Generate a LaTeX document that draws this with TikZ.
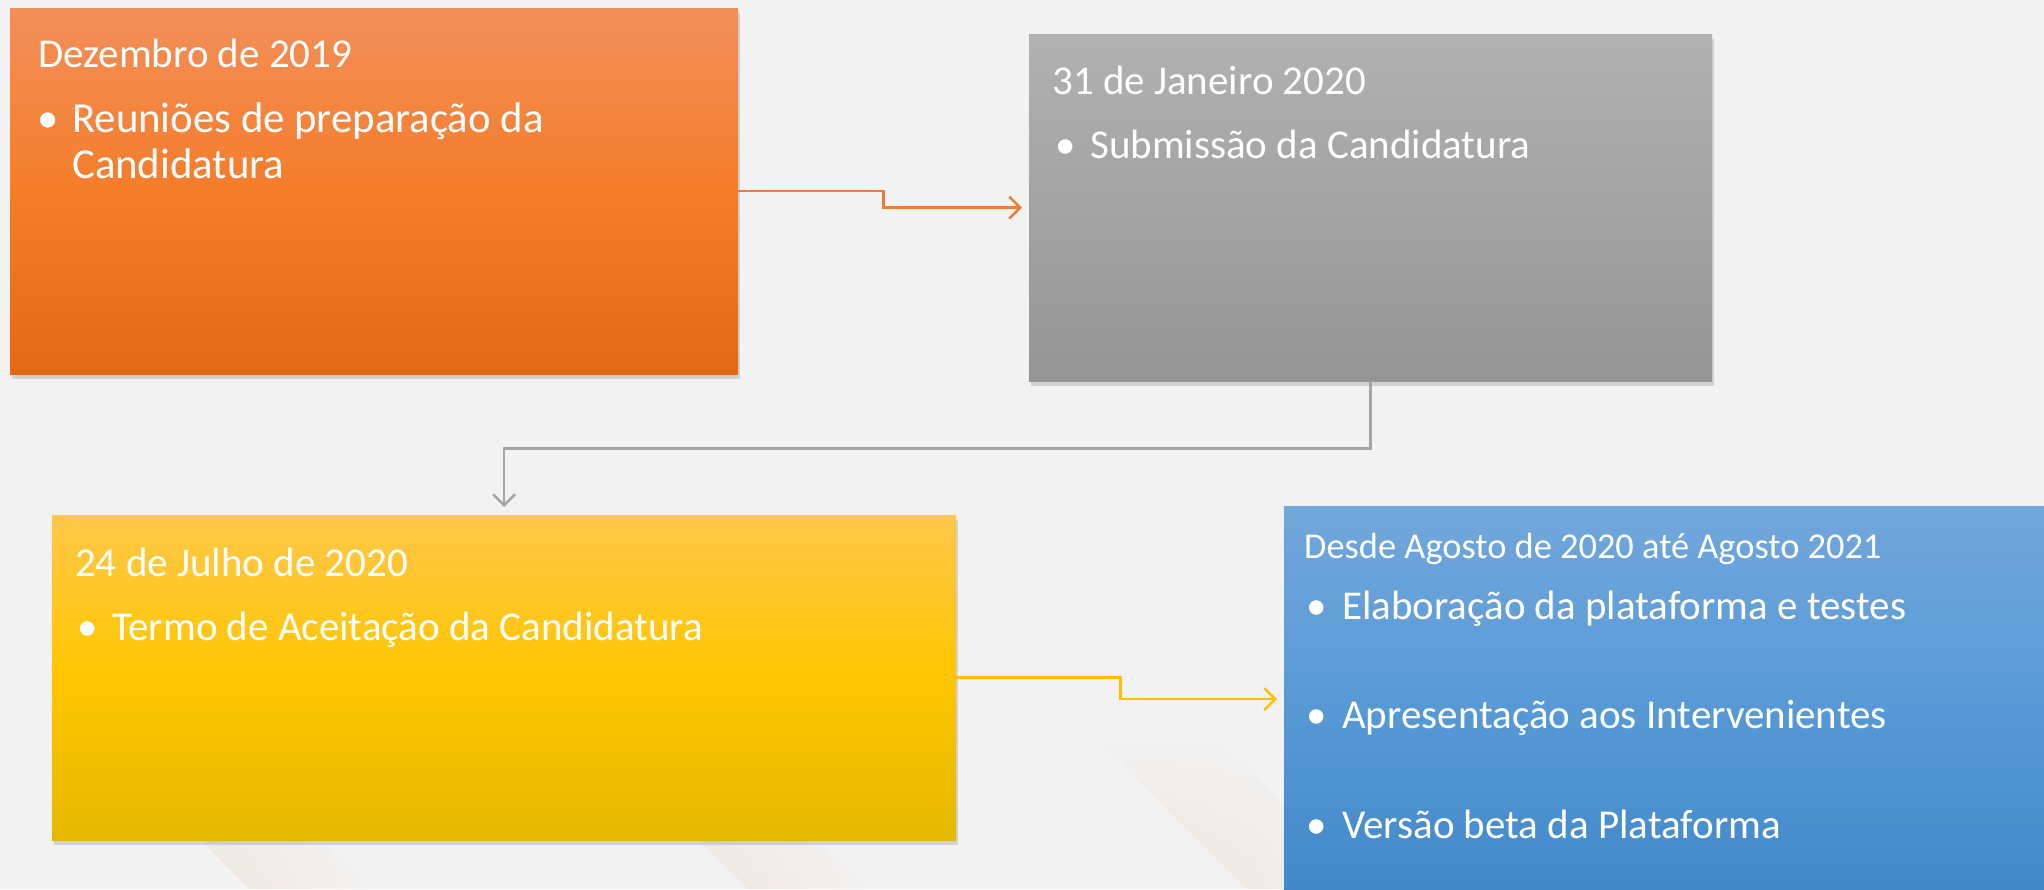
\documentclass[tikz,border=0pt]{standalone}
\usepackage{fontspec}
\setmainfont{Carlito}
\usetikzlibrary{arrows.meta,shadows,fadings}
\definecolor{bg}{RGB}{242,242,242}
\definecolor{streak}{RGB}{238,218,202}
\definecolor{oA}{RGB}{242,143,90}
\definecolor{oB}{RGB}{244,125,42}
\definecolor{oC}{RGB}{226,106,22}
\definecolor{gA}{RGB}{177,177,177}
\definecolor{gB}{RGB}{163,163,163}
\definecolor{gC}{RGB}{149,149,149}
\definecolor{yA}{RGB}{255,200,74}
\definecolor{yB}{RGB}{255,198,0}
\definecolor{yC}{RGB}{228,184,0}
\definecolor{bA}{RGB}{114,167,219}
\definecolor{bB}{RGB}{88,154,214}
\definecolor{bC}{RGB}{66,136,200}
\definecolor{oline}{RGB}{237,125,49}
\definecolor{gline}{RGB}{165,165,165}
\definecolor{yline}{RGB}{255,192,0}
\newcommand\bul{\makebox[35pt][l]{•}}
\begin{document}
\begin{tikzpicture}[x=1pt,y=-1pt,
  box/.style={draw=none, inner sep=0pt, anchor=north west,
    drop shadow={shadow xshift=2pt, shadow yshift=-5pt, opacity=0.28}},
  txt/.style={anchor=base west, inner sep=0pt, text=white, font=\fontsize{41}{49}\selectfont},
  bigtxt/.style={txt, font=\fontsize{42.8}{51}\selectfont},
  smalltxt/.style={txt, font=\fontsize{36.4}{43}\selectfont},
  conn/.style={line width=2.5pt, -{Straight Barb[length=11pt,width=22pt]}, shorten >=7pt},
  streakband/.style={left color=streak, right color=bg, path fading=north, opacity=0.8}]
\useasboundingbox (0,0) rectangle (2044,889);
\clip (0,0) rectangle (2044,889);
\fill[bg] (0,0) rectangle (2044,889);
% faint background streaks
\shade[streakband] (104,744) -- (249,889) -- (369,889) -- (224,744) -- cycle;
\shade[streakband] (603,744) -- (748,889) -- (868,889) -- (723,744) -- cycle;
\shade[streakband] (1102,744) -- (1247,889) -- (1367,889) -- (1222,744) -- cycle;
% boxes
\node[box, minimum width=728pt, minimum height=366pt,
  top color=oA, bottom color=oC, middle color=oB] (o) at (10,8) {};
\node[box, minimum width=683pt, minimum height=347pt,
  top color=gA, bottom color=gC, middle color=gB] (g) at (1029,34) {};
\node[box, minimum width=904pt, minimum height=325pt,
  top color=yA, bottom color=yC, middle color=yB] (y) at (52,515) {};
\node[box, minimum width=780pt, minimum height=386pt,
  top color=bA, bottom color=bC, middle color=bB] (b) at (1284,506) {};
% connectors
\draw[conn, oline] (o.east) -- ++(145,0) |- (g.west);
\draw[conn, gline, shorten >=8pt] (g.south) -- ++(0,67) -| (y.north);
\draw[conn, yline] (y.east) -- ++(164,0) |- (b.west);
% texts
\node[txt] (oh) at (38,67) {Dezembro de 2019};
\node[bigtxt] (o1) at (37,132) {\bul Reuniões de preparação da};
\node[bigtxt] (o2) at (72,178) {Candidatura};
\node[txt] (gh) at (1052,94) {31 de Janeiro 2020};
\node[txt] (g1) at (1055,158) {\bul Submissão da Candidatura};
\node[txt] (yh) at (75,576) {24 de Julho de 2020};
\node[txt] (y1) at (77,640) {\bul Termo de Aceitação da Candidatura};
\node[smalltxt] (bh) at (1304,558) {Desde Agosto de 2020 até Agosto 2021};
\node[txt] (b1) at (1306,619) {\makebox[36pt][l]{•}Elaboração da plataforma e testes};
\node[txt] (b2) at (1306,728) {\makebox[36pt][l]{•}Apresentação aos Intervenientes};
\node[txt] (b3) at (1306,838) {\makebox[36pt][l]{•}Versão beta da Plataforma};
\end{tikzpicture}
\end{document}
